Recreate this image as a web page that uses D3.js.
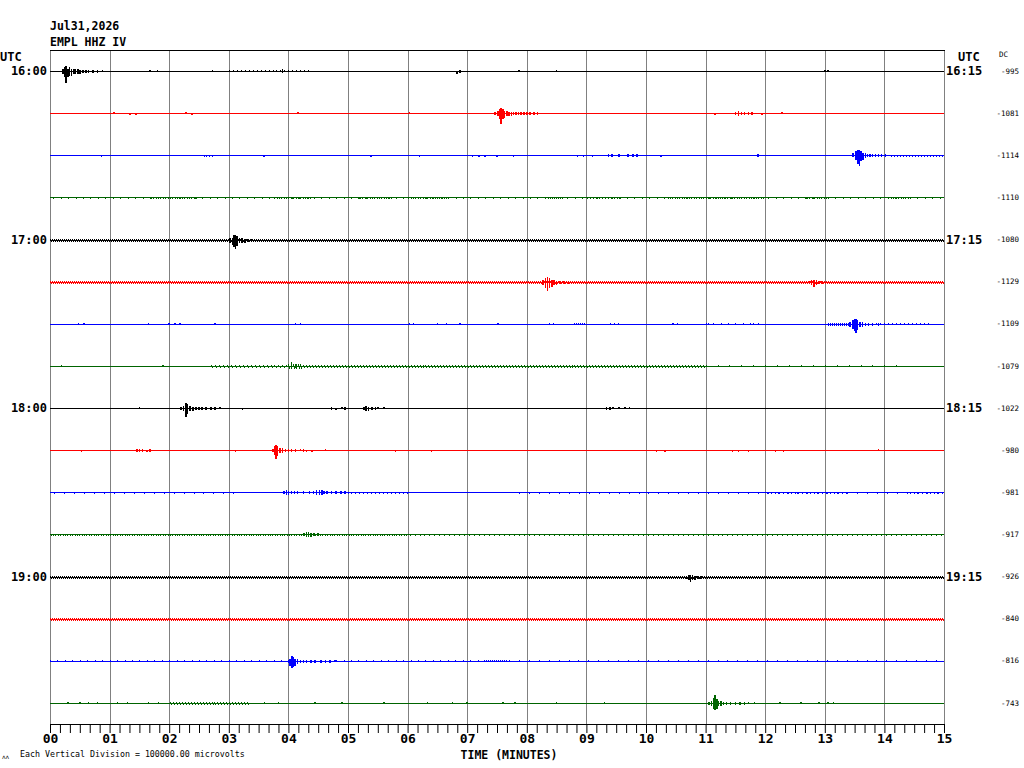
<!DOCTYPE html>
<html><head><meta charset="utf-8">
<script src="https://cdn.jsdelivr.net/npm/d3@7"></script>
<style>
html,body{margin:0;padding:0;background:#fff;}
svg{display:block;}
text{font-family:"DejaVu Sans Mono","Liberation Mono",monospace;}
</style></head><body>
<svg id="chart" width="1024" height="768"></svg>
<script>
// ---------- DATA ----------
const titleDate = "Jul31,2026";
const stationLabel = "EMPL HHZ IV";
const minuteTicks = d3.range(0, 16);            // 00 .. 15
const leftHourLabels = ["16:00", "17:00", "18:00", "19:00"];
const rightHourLabels = ["16:15", "17:15", "18:15", "19:15"];
const traceColors = ["#000000", "#ff0000", "#0000ff", "#006400"];
const dcValues = [-995, -1081, -1114, -1110, -1080, -1129, -1109, -1079, -1022, -980, -981, -917, -926, -840, -816, -743];
const scaleNote = "Each Vertical Division = 100000.00 microvolts";
const microvoltsPerDivision = 100000;

// spikes per trace: [minute, up (µV), down (µV)]
const traceSpikes = [
  [[0.22,5000,7000],[0.25,9500,14000],[0.27,14000,28000],[0.30,7000,12000],[0.33,9500,9500],[0.36,5000,9500],[0.40,7000,5000],[0.43,5000,7000],[0.47,5000,5000],[0.50,3000,5000],[0.55,3000,3000],[0.60,3000,3000],[0.65,2500,2500],[0.72,2500,2500],[0.80,2500,2500],[0.88,2500,0],
   [1.68,3000,0],[1.80,3000,0],[2.73,3000,0],[3.90,5000,3500],[6.83,2000,5000],[6.88,3500,3500],[7.87,2500,0],[8.50,2500,0],[13.00,3500,0],[13.05,3500,0]],
  [[1.07,3500,0],[1.34,0,2500],[1.44,0,2500],[2.28,3000,0],[2.38,0,2500],[4.16,3500,0],[6.03,2500,0],
   [7.47,2500,2500],[7.52,5000,7000],[7.55,9500,14000],[7.57,14000,26000],[7.60,9500,12000],[7.63,7000,9500],[7.67,5000,7000],[7.70,3500,5000],[7.74,3500,5000],[7.78,3500,3500],[7.82,3500,3500],[7.86,3500,3500],[7.90,3500,3500],[7.95,2500,3500],[8.00,2500,3500],[8.05,2500,2500],[8.12,2500,2500],[8.18,2500,2500],
   [11.16,0,2500],[11.50,3500,3500],[11.55,5000,5000],[11.60,3500,3500],[11.65,3500,3500],[11.72,2500,2500],[11.78,2500,2500],[11.95,0,2500],[12.28,2500,0]],
  [[0.86,0,2500],[2.59,0,2500],[2.63,0,2500],[2.68,0,2500],[2.73,0,2500],[3.59,0,2500],[5.39,0,2500],[6.20,0,2500],[7.09,0,2500],[7.20,0,2500],[7.30,0,2500],[7.50,0,2500],[7.78,0,2500],
   [8.85,0,2500],[8.95,0,2500],[9.10,0,2500],[9.37,3000,2500],[9.43,3500,2500],[9.55,2500,2500],[9.70,3500,2500],[9.78,2500,2500],[9.85,2500,2500],[10.25,0,2500],[11.88,2500,2500],
   [13.47,5000,2500],[13.52,9500,9500],[13.56,12000,19000],[13.58,14000,24000],[13.61,9500,12000],[13.64,7000,9500],[13.68,5000,5000],[13.72,3500,3500],[13.76,3500,3500],[13.80,3500,2500],[13.85,2500,2500],[13.90,2500,2500],[13.95,2500,2500],[14.02,2500,2500]],
  [],
  [[3.02,5000,5000],[3.06,7000,9500],[3.09,12000,16500],[3.11,14000,19000],[3.14,9500,12000],[3.18,7000,7000],[3.22,5000,5000],[3.27,3500,5000],[3.32,3500,3500],[3.38,2500,3500]],
  [[8.27,5000,5000],[8.31,9500,12000],[8.35,12000,19000],[8.38,9500,14000],[8.42,7000,9500],[8.46,5000,5000],[8.50,3500,5000],[8.56,3500,3500],[8.62,3500,3500],[8.70,2500,2500],
   [12.74,3500,3500],[12.78,7000,7000],[12.82,5000,9500],[12.86,5000,5000],[12.90,3500,3500],[12.95,2500,2500]],
  [[0.48,3500,0],[0.57,3500,0],[1.65,3000,0],[2.00,3000,0],[2.10,3000,0],[2.18,3000,0],[2.77,3000,0],[4.12,3500,0],[4.20,3000,0],[6.03,3000,0],[6.10,3000,0],[6.50,3000,0],[6.65,2500,0],[6.88,3000,0],[7.52,3500,0],[8.38,3000,0],[8.45,2500,0],[10.45,3000,0],[10.53,3000,0],[11.05,2500,0],[11.80,3000,0],
   [13.42,5000,5000],[13.47,9500,9500],[13.50,12000,16500],[13.52,14000,19000],[13.55,9500,12000],[13.59,7000,7000],[13.63,5000,5000],[13.68,3500,3500],[13.73,3500,3500],[13.80,2500,2500],[13.90,2500,2500]],
  [[0.19,3000,0],[1.90,3000,0],[4.05,9500,5000],[4.12,7000,3500]],
  [[1.50,3000,0],[2.20,3500,3500],[2.24,7000,7000],[2.28,12000,19000],[2.31,9500,14000],[2.35,7000,7000],[2.40,3500,5000],[2.45,3500,3500],[2.50,3500,3500],[2.55,3500,3500],[2.62,3500,3500],[2.70,3500,3500],[2.77,2500,2500],[2.85,2500,0],
   [3.23,0,2500],[4.72,2500,2500],[4.80,0,2500],[4.90,2500,0],[4.95,2500,2500],[5.27,3500,3500],[5.30,5000,5000],[5.34,3500,5000],[5.40,3500,3500],[5.46,3500,3500],[5.50,3500,0],[5.60,3500,0],
   [9.34,2500,3500],[9.40,2500,3500],[9.45,2500,0],[9.55,2500,0],[9.65,3500,0],[9.72,2500,0]],
  [[0.53,0,2500],[1.46,3500,2500],[1.50,3500,3500],[1.55,2500,2500],[1.63,0,2500],[1.68,2500,2500],[3.11,0,2500],
   [3.74,3500,3500],[3.77,9500,9500],[3.79,14000,21000],[3.82,9500,12000],[3.86,7000,7000],[3.90,5000,5000],[3.95,3500,3500],[4.00,3500,3500],[4.05,3500,3500],[4.12,2500,3500],[4.20,3500,0],[4.25,2500,2500],[4.30,0,3500],[4.40,0,3500],[4.62,3500,0],
   [5.80,0,2500],[6.40,0,2500],[10.18,0,2500],[10.32,0,2500],[11.45,0,2500],[11.55,0,2500],[11.72,0,2500],[12.17,0,2500],[12.31,0,2500],[13.90,3500,0]],
  [[3.93,3500,3500],[3.97,5000,7000],[4.00,3500,5000],[4.05,3500,3500],[4.10,2500,3500],[4.15,2500,2500],[4.25,2500,2500],[4.35,2500,2500],[4.42,3500,3500],[4.47,5000,5000],[4.52,7000,7000],[4.56,5000,5000],[4.60,3500,3500],[4.65,3500,3500],[4.72,2500,3500],[4.80,2500,2500],[4.88,2500,2500],[4.95,2500,2500]],
  [[4.26,3500,3500],[4.30,5000,5000],[4.34,5000,7000],[4.38,3500,5000],[4.43,3500,3500],[4.50,2500,2500]],
  [[10.68,3500,3500],[10.72,5000,7000],[10.75,7000,9500],[10.78,5000,7000],[10.82,3500,5000],[10.87,2500,3500],[10.92,2500,2500]],
  [],
  [[4.00,3500,3500],[4.03,7000,9500],[4.06,12000,16500],[4.08,9500,14000],[4.11,7000,9500],[4.15,5000,5000],[4.20,3500,3500],[4.25,3500,3500],[4.30,3500,3500],[4.38,2500,2500],[4.45,2500,2500],[4.55,2500,2500],[4.62,2500,2500],[4.70,2500,2500],[4.78,2500,0]],
  [[0.30,2500,0],[0.50,2500,0],[0.65,3500,0],[0.80,2500,0],[1.13,3500,0],[1.30,2500,0],[1.65,2500,0],[1.82,2500,0],[3.60,2500,0],[3.83,2500,0],[4.45,2500,0],[4.90,2500,0],[5.60,2500,0],[6.33,2500,0],[6.75,2500,0],[7.00,2500,0],[7.60,2500,0],[7.80,2500,0],[8.50,2500,0],[9.30,2500,0],
   [11.06,3500,3500],[11.10,7000,7000],[11.13,12000,12000],[11.16,19000,16500],[11.19,9500,12000],[11.22,7000,7000],[11.26,5000,5000],[11.30,3500,3500],[11.35,3500,3500],[11.42,2500,2500],[11.50,2500,2500],[11.58,2500,2500],[11.65,2500,2500],[11.72,2500,0],[11.82,2500,0],
   [12.25,2500,0],[12.60,2500,0],[12.90,2500,0],[13.05,2500,0],[13.15,2500,0]]
];

// background noise stretches per trace: [start min, end min, up µV, down µV, spikes per minute]
const traceNoise = [
  [[3.00,3.95,3500,2000,15],[4.00,4.37,3500,2000,15]],
  [],
  [[14.10,15.00,0,2500,20]],
  [[0,15,0,2500,8],[1.68,2.50,0,2500,25],[3.75,4.40,0,3500,25],[5.15,5.75,0,2500,25],[6.00,6.70,0,2500,25],[8.35,8.60,0,3500,30],[9.00,9.60,0,2500,20],[10.35,12.00,0,2500,25],[12.65,13.10,0,3500,25],[14.10,14.45,0,2500,25]],
  [[0,15,2500,2500,40]],
  [[0,15,2500,2500,40]],
  [[8.80,9.00,3000,0,40],[9.40,9.60,3000,0,15],[11.00,12.00,2500,0,8],[13.05,13.40,2500,2500,30],[13.80,14.80,3000,0,15]],
  [[2.70,4.00,3500,2500,15],[4.00,4.25,7000,5000,25],[4.25,11.00,3500,3500,20],[11.00,14.40,3000,2000,5]],
  [],
  [],
  [[0,3.10,0,2500,6],[4.90,6.00,0,2500,15],[7.80,15,0,2500,6],[12.00,13.40,0,2500,15],[14.40,15,0,2500,15]],
  [[0,6.00,0,2500,25],[6.00,15,0,2500,12]],
  [[0,15,2500,3000,40]],
  [[0,15,2500,3500,40]],
  [[0,4.00,2500,0,8],[4.80,7.20,2500,0,8],[7.28,7.66,3000,0,40],[7.70,15,2500,0,6]],
  [[2.01,3.35,2500,2500,20]]
];

// ---------- DRAW ----------
const svg = d3.select("#chart");
const L = 50, R = 944, T = 50, B = 724;
const nTraces = dcValues.length;
const x = d3.scaleLinear().domain([0, 15]).range([L, R]);
const row = d3.scaleLinear().domain([0, nTraces]).range([T, B]);
const yMid = i => row(i + 0.5);
const amp = d3.scaleLinear().domain([0, microvoltsPerDivision]).range([0, row(1) - row(0)]);
const color = i => traceColors[i % traceColors.length];

// vertical minute grid
svg.append("g").selectAll("line").data(minuteTicks).join("line")
  .attr("x1", d => Math.round(x(d)) + 0.5).attr("x2", d => Math.round(x(d)) + 0.5)
  .attr("y1", T).attr("y2", B)
  .attr("stroke", "#808080").attr("stroke-width", 1);
// top border
svg.append("line").attr("x1", L).attr("x2", R + 1).attr("y1", T + 0.5).attr("y2", T + 0.5)
  .attr("stroke", "#000").attr("stroke-width", 1);

// traces
const traces = svg.append("g").attr("shape-rendering", "crispEdges");
for (let i = 0; i < nTraces; i++) {
  const g = traces.append("g");
  const y0 = Math.round(yMid(i)) + 0.5;
  // noise stretches as regularly spaced ticks
  traceNoise[i].forEach(([s, e, up, dn, rate]) => {
    const gap = Math.max(1, (x(1) - x(0)) / rate - 1);
    if (up > 0) {
      const h = amp(up);
      g.append("line").attr("x1", x(s)).attr("x2", x(e))
        .attr("y1", y0 - h / 2).attr("y2", y0 - h / 2)
        .attr("stroke", color(i)).attr("stroke-width", h)
        .attr("stroke-dasharray", `1 ${gap}`);
    }
    if (dn > 0) {
      const h = amp(dn);
      g.append("line").attr("x1", x(s)).attr("x2", x(e))
        .attr("y1", y0 + h / 2).attr("y2", y0 + h / 2)
        .attr("stroke", color(i)).attr("stroke-width", h)
        .attr("stroke-dasharray", `1 ${gap}`).attr("stroke-dashoffset", gap / 2 + 1);
    }
  });
  // baseline
  g.append("line").attr("x1", L).attr("x2", R).attr("y1", y0).attr("y2", y0)
    .attr("stroke", color(i)).attr("stroke-width", 1);
  // spikes
  g.selectAll("line.spk").data(traceSpikes[i]).join("line").attr("class", "spk")
    .attr("x1", d => x(d[0])).attr("x2", d => x(d[0]))
    .attr("y1", d => y0 - amp(d[1])).attr("y2", d => y0 + amp(d[2]))
    .attr("stroke", color(i)).attr("stroke-width", 1.5);
}

// bottom axis
const axis = d3.axisBottom(x)
  .tickValues(d3.range(0, 90 + 1).map(k => k / 6))
  .tickSize(9).tickSizeOuter(9)
  .tickFormat(d => Math.abs(d - Math.round(d)) < 1e-6 ? d3.format("02d")(Math.round(d)) : "");
const ax = svg.append("g").attr("transform", `translate(0,${B})`).call(axis);
ax.select(".domain").attr("stroke", "#000");
ax.selectAll(".tick line").attr("stroke", "#000");
ax.selectAll(".tick text").attr("font-family", "DejaVu Sans Mono").attr("font-weight", "bold")
  .attr("font-size", 13).attr("fill", "#000").attr("y", 10);

// titles
const bold = sel => sel.attr("font-weight", "bold").attr("fill", "#000");
bold(svg.append("text").attr("x", 50).attr("y", 30).attr("font-size", 11.5).text(titleDate));
bold(svg.append("text").attr("x", 50).attr("y", 46).attr("font-size", 11.5).text(stationLabel));
bold(svg.append("text").attr("x", 0).attr("y", 61).attr("font-size", 12).text("UTC"));
bold(svg.append("text").attr("x", 958).attr("y", 61).attr("font-size", 12).text("UTC"));
svg.append("text").attr("x", 999).attr("y", 57).attr("font-size", 7.5).attr("fill", "#000").text("DC");

// hour labels
leftHourLabels.forEach((t, k) => {
  bold(svg.append("text").attr("x", 47).attr("y", yMid(k * 4)).attr("dy", "0.35em")
    .attr("text-anchor", "end").attr("font-size", 12).text(t));
});
rightHourLabels.forEach((t, k) => {
  bold(svg.append("text").attr("x", 946).attr("y", yMid(k * 4)).attr("dy", "0.35em")
    .attr("font-size", 12).text(t));
});
// DC values
svg.append("g").selectAll("text").data(dcValues).join("text")
  .attr("x", 1019).attr("y", (d, i) => yMid(i)).attr("dy", "0.35em")
  .attr("text-anchor", "end").attr("font-size", 7.5).attr("fill", "#000")
  .text(d => d);

// footer
bold(svg.append("text").attr("x", 509).attr("y", 759).attr("text-anchor", "middle")
  .attr("font-size", 11.5).text("TIME (MINUTES)"));
svg.append("text").attr("x", 20).attr("y", 757).attr("font-size", 8.3).attr("fill", "#000").text(scaleNote);
svg.append("text").attr("x", 2).attr("y", 759).attr("font-size", 6).attr("fill", "#000").text("ʌʌ");
</script>
</body></html>
